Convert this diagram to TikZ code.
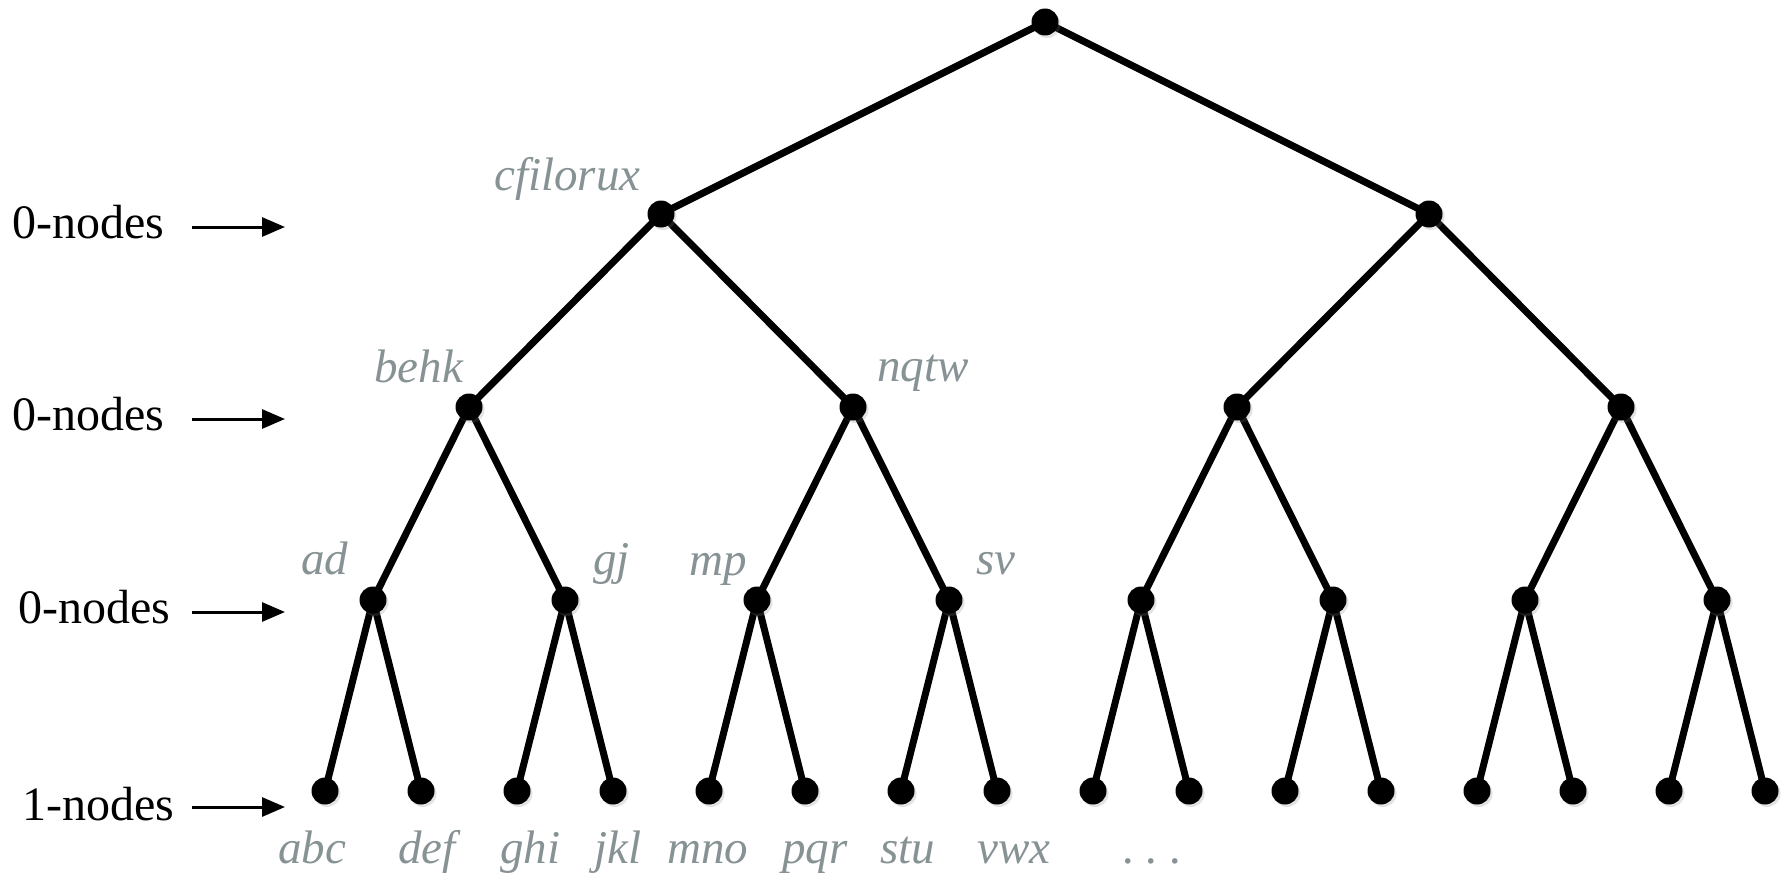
\documentclass[tikz,border=0pt]{standalone}
\usepackage{fontspec}
\setmainfont{Liberation Serif}
\usetikzlibrary{arrows.meta,shadows,backgrounds}
\definecolor{labelgray}{RGB}{135,146,148}
\begin{document}
\begin{tikzpicture}[x=1pt,y=-1pt,
  dot/.style={circle,fill=black,inner sep=0pt,minimum size=27pt,
    drop shadow={shadow xshift=2pt,shadow yshift=-2.5pt,opacity=0.22}},
  edge/.style={line width=7pt},
  rowlabel/.style={font=\fontsize{48}{50}\selectfont,anchor=base west,inner sep=0pt},
  tag/.style={font=\fontsize{47}{50}\selectfont\itshape,text=labelgray,anchor=base west,inner sep=0pt},
  pointer/.style={line width=3pt,-{Triangle[length=23pt,width=19pt]}}]
\useasboundingbox (0,0) rectangle (1787,875);

% tree vertices, level by level
\node[dot] (r) at (1045,22) {};
\foreach \m in {0,1} \node[dot] (n1-\m) at ({661+768*\m},214) {};
\foreach \k in {0,...,3} \node[dot] (n2-\k) at ({469+384*\k},407) {};
\foreach \j in {0,...,7} \node[dot] (n3-\j) at ({373+192*\j},600) {};
\foreach \i in {0,...,15} \node[dot] (n4-\i) at ({325+96*\i},791) {};

% tree edges behind the vertices
\begin{scope}[on background layer]
  \foreach \m in {0,1} {\draw[edge] (r.center) -- (n1-\m.center);}
  \foreach \k in {0,...,3} {\pgfmathtruncatemacro\p{floor(\k/2)}\draw[edge] (n1-\p.center) -- (n2-\k.center);}
  \foreach \j in {0,...,7} {\pgfmathtruncatemacro\p{floor(\j/2)}\draw[edge] (n2-\p.center) -- (n3-\j.center);}
  \foreach \i in {0,...,15} {\pgfmathtruncatemacro\p{floor(\i/2)}\draw[edge] (n3-\p.center) -- (n4-\i.center);}
\end{scope}

% labels of internal vertices
\node[tag] (t-cf) at (494,190) {cfilorux};
\node[tag] (t-be) at (374,382) {behk};
\node[tag] (t-nq) at (877,381) {nqtw};
\node[tag] (t-ad) at (301,574) {ad};
\node[tag] (t-gj) at (593,574) {gj};
\node[tag] (t-mp) at (689,575) {mp};
\node[tag] (t-sv) at (976,574) {sv};

% labels of leaves
\node[tag] (l-abc) at (278,863) {abc};
\node[tag] (l-def) at (398,863) {def};
\node[tag] (l-ghi) at (500,863) {ghi};
\node[tag] (l-jkl) at (594,863) {jkl};
\node[tag] (l-mno) at (667,863) {mno};
\node[tag] (l-pqr) at (782,863) {pqr};
\node[tag] (l-stu) at (880,863) {stu};
\node[tag] (l-vwx) at (977,863) {vwx};
\node[tag] (l-dots) at (1123,863) {.\ .\ .};

% row captions with pointers
\node[rowlabel] (c1) at (12,238) {0-nodes};
\node[rowlabel] (c2) at (12,430) {0-nodes};
\node[rowlabel] (c3) at (18,623) {0-nodes};
\node[rowlabel] (c4) at (22,820) {1-nodes};
\coordinate (s1) at (192,227); \coordinate (e1) at (285,227);
\coordinate (s2) at (192,419); \coordinate (e2) at (285,419);
\coordinate (s3) at (192,612); \coordinate (e3) at (285,612);
\coordinate (s4) at (192,807); \coordinate (e4) at (285,807);
\foreach \q in {1,...,4} {\draw[pointer] (s\q) -- (e\q);}
\end{tikzpicture}
\end{document}
